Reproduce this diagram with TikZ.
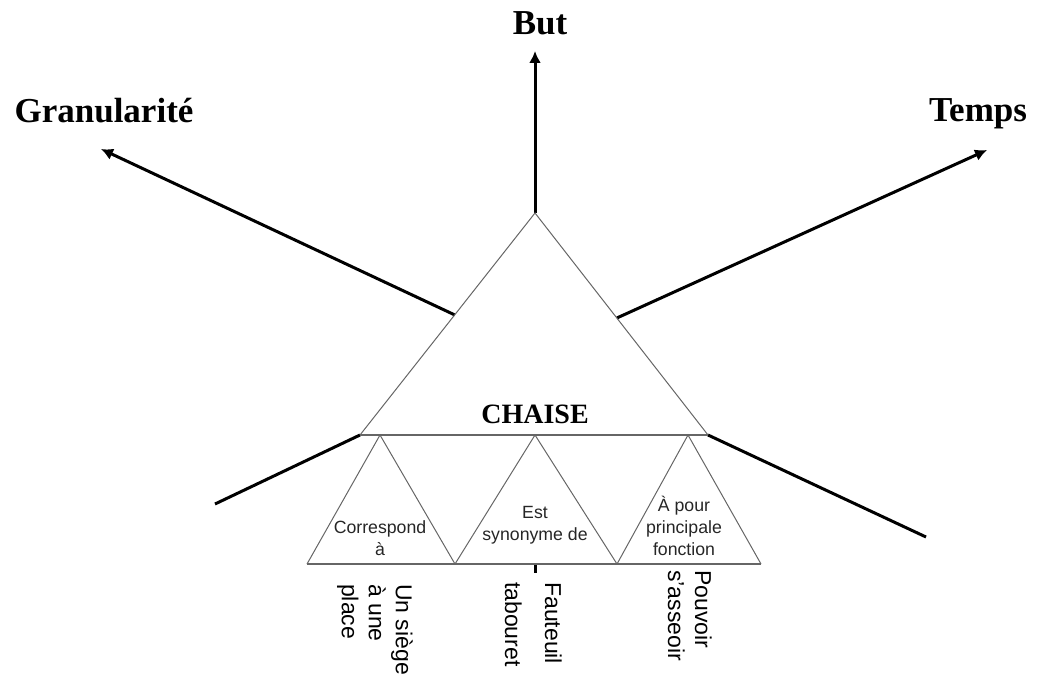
\documentclass[tikz,border=0pt]{standalone}
\usepackage{fontspec}
\setmainfont{Liberation Serif}
\setsansfont{Liberation Sans}
\usetikzlibrary{arrows.meta,calc}
\begin{document}
\begin{tikzpicture}[x=1pt,y=-1pt,
  axisline/.style={line width=3pt, black},
  axisarrow/.style={axisline, -{Latex[length=12pt,width=12pt]}},
  triside/.style={draw=black!60, line width=1pt},
  tribase/.style={draw=black!60, line width=1.6pt},
  biglabel/.style={font=\fontsize{35}{40}\selectfont\bfseries, inner sep=0pt, anchor=base},
  rellabel/.style={font=\sffamily\fontsize{17.7}{22}\selectfont, align=center, inner sep=0pt, text=black!85, anchor=north},
  vertlabel/.style={font=\sffamily\fontsize{23}{27}\selectfont, align=left, inner sep=0pt, rotate=-90, anchor=north west}
]
\useasboundingbox (0,0) rectangle (1040,679);

% triangle vertices
\coordinate (A) at (535,213);
\coordinate (BL) at (360,435);
\coordinate (BR) at (708,435);
\coordinate (t1) at (380,435);
\coordinate (t2) at (535,435);
\coordinate (t3) at (688,435);
\coordinate (b0) at (307,564);
\coordinate (b1) at (455,564);
\coordinate (b2) at (617,564);
\coordinate (b3) at (761,564);
\coordinate (gS) at ($(A)!0.459!(BL)$);
\coordinate (tS) at ($(A)!0.473!(BR)$);

% axis ends
\coordinate (butEnd) at (535,51);
\coordinate (granEnd) at (101,149);
\coordinate (tempsEnd) at (987,150);
\coordinate (llEnd) at (215,504);
\coordinate (lrEnd) at (926,537);
\coordinate (tickS) at (535,565);
\coordinate (tickE) at (535,573);

% axes
\draw[axisarrow] (A) -- (butEnd);
\draw[axisarrow] (gS) -- (granEnd);
\draw[axisarrow] (tS) -- (tempsEnd);
\draw[axisline] (BL) -- (llEnd);
\draw[axisline] (BR) -- (lrEnd);
\draw[axisline] (tickS) -- (tickE);

% big triangle
\draw[triside] (BL) -- (A) -- (BR);
\draw[tribase] (BL) -- (BR);
% small triangles
\draw[triside] (b0) -- (t1) -- (b1) -- (t2) -- (b2) -- (t3) -- (b3);
\draw[tribase] (b0) -- (b3);

% labels
\node[biglabel] (but) at (540,35) {But};
\node[biglabel] (gran) at (104,123) {Granularité};
\node[biglabel] (temps) at (978,122) {Temps};
\node[font=\fontsize{28}{32}\selectfont\bfseries, inner sep=0pt, anchor=base] (chaise) at (535,423) {CHAISE};

\node[rellabel] (r1) at (380,520.5) {Correspond\\à};
\node[rellabel] (r2) at (535,506) {Est\\synonyme de};
\node[rellabel] (r3) at (684,496) {À pour\\principale\\fonction};

\node[vertlabel] (v1) at (413,584) {Un siège\\à une\\place};
\node[vertlabel] (v2) at (562,582) {Fauteuil\\[13pt]tabouret};
\node[vertlabel] (v3) at (712,570) {Pouvoir\\s’asseoir};
\end{tikzpicture}
\end{document}
